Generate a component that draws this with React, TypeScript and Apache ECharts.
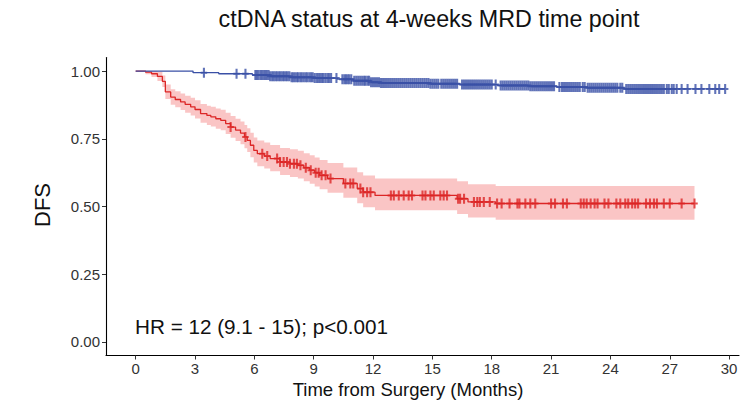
import React, { useEffect, useRef } from "react";
import * as echarts from "echarts";

// Kaplan-Meier estimates: ctDNA-negative group (blue)
const negEventTimes = [0, 2.9, 4.2, 5.9, 6.8, 7.8, 9.0, 10.2, 11.0, 11.9, 12.4, 14.9, 16.4, 18.3, 19.9, 21.3, 22.8, 24.7];
const negSurvival = [1.0, 0.994, 0.99, 0.985, 0.981, 0.977, 0.974, 0.97, 0.964, 0.959, 0.956, 0.953, 0.95, 0.947, 0.944, 0.941, 0.938, 0.934];
const negCensorTimes = [
  3.45, 5.1, 5.55, 6.05, 6.12, 6.2, 6.3, 6.38, 6.47, 6.55, 6.63, 6.72, 6.8, 6.9, 6.98, 7.07, 7.15, 7.25, 7.33, 7.42,
  7.5, 7.6, 7.68, 7.77, 7.88, 7.96, 8.05, 8.15, 8.22, 8.32, 8.4, 8.5, 8.6, 8.68, 8.78, 8.87, 8.95, 9.05, 9.15, 9.23,
  9.32, 9.42, 9.5, 9.6, 9.7, 9.78, 9.88, 10.15, 10.45, 10.55, 10.63, 10.72, 10.8, 10.9, 11.05, 11.15, 11.25, 11.35,
  11.45, 11.55, 11.62, 11.72, 11.8, 11.9, 12.0, 12.1, 12.2, 12.3, 12.4, 12.5, 12.6, 12.7, 12.8, 12.9, 13.0, 13.1,
  13.2, 13.3, 13.4, 13.5, 13.6, 13.7, 13.8, 13.9, 14.0, 14.1, 14.2, 14.3, 14.4, 14.5, 14.6, 14.7, 14.8, 14.9, 15.0,
  15.1, 15.2, 15.3, 15.45, 15.55, 15.65, 15.75, 15.85, 15.95, 16.05, 16.15, 16.25, 16.5, 16.6, 16.7, 16.8, 16.9,
  17.0, 17.1, 17.2, 17.3, 17.4, 17.5, 17.6, 17.7, 17.8, 17.9, 18.0, 18.2, 18.45, 18.55, 18.65, 18.75, 18.85, 18.95,
  19.05, 19.15, 19.25, 19.35, 19.45, 19.55, 19.65, 19.75, 19.85, 19.95, 20.05, 20.15, 20.25, 20.35, 20.45, 20.55,
  20.65, 20.75, 20.85, 20.95, 21.05, 21.15, 21.42, 21.55, 21.65, 21.75, 21.85, 21.95, 22.05, 22.15, 22.25, 22.35,
  22.45, 22.6, 22.7, 22.85, 22.95, 23.05, 23.15, 23.25, 23.35, 23.45, 23.55, 23.65, 23.75, 23.85, 23.95, 24.05,
  24.15, 24.25, 24.35, 24.5, 24.6, 24.8, 24.9, 25.0, 25.1, 25.2, 25.3, 25.4, 25.5, 25.6, 25.7, 25.8, 25.9, 26.0,
  26.1, 26.2, 26.3, 26.4, 26.5, 26.6, 26.7, 26.85, 26.95, 27.1, 27.2, 27.35, 27.6, 27.9, 28.3, 28.6, 29.0, 29.3,
  29.5, 29.8,
];

// Kaplan-Meier estimates with 95% CI: ctDNA-positive group (red)
const posEventTimes = [
  0, 0.5, 0.8, 1.1, 1.35, 1.5, 1.77, 2.0, 2.27, 2.5, 2.78, 3.0, 3.28, 3.6, 3.8, 4.05, 4.3, 4.55, 4.8, 5.05, 5.3, 5.5,
  5.64, 5.8, 5.97, 6.15, 6.5, 6.8, 7.3, 7.8, 8.2, 8.5, 8.8, 9.05, 9.3, 9.7, 10.5, 11.2, 11.5, 12.1, 16.25, 16.8, 18.2,
];
const posSurvival = [
  1.0, 0.996, 0.99, 0.98, 0.962, 0.923, 0.904, 0.895, 0.886, 0.877, 0.868, 0.858, 0.843, 0.836, 0.831, 0.824, 0.818,
  0.806, 0.793, 0.782, 0.771, 0.757, 0.744, 0.726, 0.707, 0.695, 0.686, 0.677, 0.664, 0.658, 0.652, 0.643, 0.634,
  0.625, 0.615, 0.603, 0.585, 0.566, 0.553, 0.541, 0.529, 0.517, 0.511,
];
const posLower = [
  1.0, 0.988, 0.978, 0.963, 0.941, 0.897, 0.876, 0.866, 0.856, 0.846, 0.836, 0.825, 0.809, 0.801, 0.795, 0.787,
  0.781, 0.768, 0.754, 0.742, 0.73, 0.715, 0.701, 0.682, 0.662, 0.649, 0.64, 0.63, 0.616, 0.609, 0.603, 0.593,
  0.584, 0.574, 0.564, 0.551, 0.532, 0.512, 0.497, 0.486, 0.472, 0.459, 0.451,
];
const posUpper = [
  1.0, 1.0, 1.0, 0.997, 0.984, 0.95, 0.933, 0.925, 0.917, 0.909, 0.901, 0.892, 0.878, 0.872, 0.868, 0.862, 0.857,
  0.846, 0.834, 0.824, 0.814, 0.801, 0.789, 0.772, 0.755, 0.744, 0.736, 0.727, 0.716, 0.711, 0.706, 0.697, 0.689,
  0.681, 0.672, 0.661, 0.644, 0.626, 0.614, 0.603, 0.593, 0.582, 0.576,
];
const posCensorTimes = [
  4.8, 5.55, 6.4, 6.65, 7.15, 7.3, 7.48, 7.65, 7.8, 8.0, 8.15, 8.33, 8.6, 8.85, 9.1, 9.25, 9.4, 9.6, 9.85, 10.6,
  10.85, 11.0, 11.36, 11.5, 11.7, 11.87, 12.9, 13.05, 13.3, 13.55, 13.8, 13.97, 14.5, 14.65, 14.9, 15.07, 15.4,
  15.57, 15.74, 16.3, 16.4, 16.6, 17.1, 17.27, 17.4, 17.6, 17.9, 18.27, 18.5, 18.9, 19.3, 19.4, 19.7, 19.95, 20.2,
  21.0, 21.2, 21.6, 21.8, 22.5, 22.65, 22.8, 23.0, 23.2, 23.35, 23.7, 23.9, 24.3, 24.5, 24.75, 24.9, 25.1, 25.25,
  25.4, 25.8, 26.0, 26.2, 26.35, 26.7, 27.0, 27.6, 28.25,
];

const xTicks = [0, 3, 6, 9, 12, 15, 18, 21, 24, 27, 30];
const yTicks = [0, 0.25, 0.5, 0.75, 1.0];

const BLUE = "#3A50A6";
const RED = "#DC2626";
const BAND = "rgba(242, 110, 110, 0.4)";
const FONT = "'Liberation Sans', Arial, Helvetica, sans-serif";

// survival value of a step function at time t
function stepValue(times: number[], values: number[], t: number): number {
  let v = values[0];
  for (let i = 0; i < times.length; i++) {
    if (times[i] <= t) v = values[i];
  }
  return v;
}

function curve(times: number[], values: number[], endTime: number): number[][] {
  const pts = times.map((t, i) => [t, values[i]]);
  pts.push([endTime, values[values.length - 1]]);
  return pts;
}

const PLUS = "path://M3.4,0H6.6V4H10V6H6.6V10H3.4V6H0V4H3.4Z";

export default function App() {
  const ref = useRef<HTMLDivElement>(null);

  useEffect(() => {
    if (!ref.current) return;
    const chart = echarts.init(ref.current, undefined, { renderer: "svg" });

    const negEnd = negCensorTimes[negCensorTimes.length - 1];
    const posEnd = posCensorTimes[posCensorTimes.length - 1];

    // rows: [time, lower, upper], extended to the last follow-up time
    const bandRows = posEventTimes.map((t, i) => [t, posLower[i], posUpper[i]]);
    bandRows.push([posEnd, posLower[posLower.length - 1], posUpper[posUpper.length - 1]]);

    const renderBand = (params: any, api: any) => {
      if (params.dataIndex !== 0) return null;
      const n = bandRows.length;
      const pts: number[][] = [];
      for (let i = 0; i < n; i++) {
        pts.push(api.coord([bandRows[i][0], bandRows[i][2]]));
        if (i < n - 1) pts.push(api.coord([bandRows[i + 1][0], bandRows[i][2]]));
      }
      for (let i = n - 1; i >= 0; i--) {
        if (i < n - 1) pts.push(api.coord([bandRows[i + 1][0], bandRows[i][1]]));
        pts.push(api.coord([bandRows[i][0], bandRows[i][1]]));
      }
      return { type: "polygon", shape: { points: pts }, style: { fill: BAND } };
    };

    const option: any = {
      animation: false,
      grid: { left: 106, right: 12, top: 57.5, bottom: 49.5, containLabel: false },
      xAxis: {
        type: "value",
        min: -1.5,
        max: 30.5,
        splitLine: { show: false },
        axisLine: { show: true, onZero: false, lineStyle: { color: "#000", width: 1.1 } },
        axisTick: { show: true, length: 4, customValues: xTicks, lineStyle: { color: "#333" } },
        axisLabel: {
          customValues: xTicks,
          color: "#333",
          fontFamily: FONT,
          fontSize: 15,
          margin: 5,
        },
      },
      yAxis: {
        type: "value",
        min: -0.05,
        max: 1.05,
        splitLine: { show: false },
        axisLine: { show: true, onZero: false, lineStyle: { color: "#000", width: 1.1 } },
        axisTick: { show: true, length: 4, customValues: yTicks, lineStyle: { color: "#333" } },
        axisLabel: {
          customValues: yTicks,
          color: "#333",
          fontFamily: FONT,
          fontSize: 15,
          margin: 6,
          formatter: (v: number) => v.toFixed(2),
        },
      },
      series: [
        {
          type: "custom",
          data: bandRows,
          encode: { x: 0, y: [1, 2] },
          renderItem: renderBand,
          silent: true,
          z: 1,
        },
        {
          type: "line",
          data: curve(posEventTimes, posSurvival, posEnd),
          step: "end",
          showSymbol: false,
          symbol: "none",
          lineStyle: { color: RED, width: 1.3 },
          z: 3,
        },
        {
          type: "line",
          data: curve(negEventTimes, negSurvival, negEnd),
          step: "end",
          showSymbol: false,
          symbol: "none",
          lineStyle: { color: BLUE, width: 1.3 },
          z: 3,
        },
        {
          type: "scatter",
          data: posCensorTimes.map((t) => [t, stepValue(posEventTimes, posSurvival, t)]),
          symbol: PLUS,
          symbolSize: [6.5, 10],
          itemStyle: { color: RED },
          z: 4,
        },
        {
          type: "scatter",
          data: negCensorTimes.map((t) => [t, stepValue(negEventTimes, negSurvival, t)]),
          symbol: PLUS,
          symbolSize: [6.5, 10],
          itemStyle: { color: BLUE },
          z: 4,
        },
      ],
      graphic: [
        {
          type: "text",
          x: 429,
          y: 19,
          style: {
            text: "ctDNA status at 4-weeks MRD time point",
            fontFamily: FONT,
            fontSize: 23.3,
            fill: "#111",
            align: "center",
            verticalAlign: "middle",
          },
        },
        {
          type: "text",
          x: 135,
          y: 326,
          style: {
            text: "HR = 12 (9.1 - 15); p<0.001",
            fontFamily: FONT,
            fontSize: 20.7,
            fill: "#111",
            align: "left",
            verticalAlign: "middle",
          },
        },
        {
          type: "text",
          x: 42,
          y: 205,
          rotation: Math.PI / 2,
          style: {
            text: "DFS",
            fontFamily: FONT,
            fontSize: 22,
            fill: "#111",
            align: "center",
            verticalAlign: "middle",
          },
        },
        {
          type: "text",
          x: 408,
          y: 389,
          style: {
            text: "Time from Surgery (Months)",
            fontFamily: FONT,
            fontSize: 18.5,
            fill: "#111",
            align: "center",
            verticalAlign: "middle",
          },
        },
      ],
    };

    chart.setOption(option);
    return () => chart.dispose();
  }, []);

  return (
    <div
      ref={ref}
      style={{ position: "fixed", left: 0, top: 0, width: 751, height: 405, background: "#fff" }}
    />
  );
}
